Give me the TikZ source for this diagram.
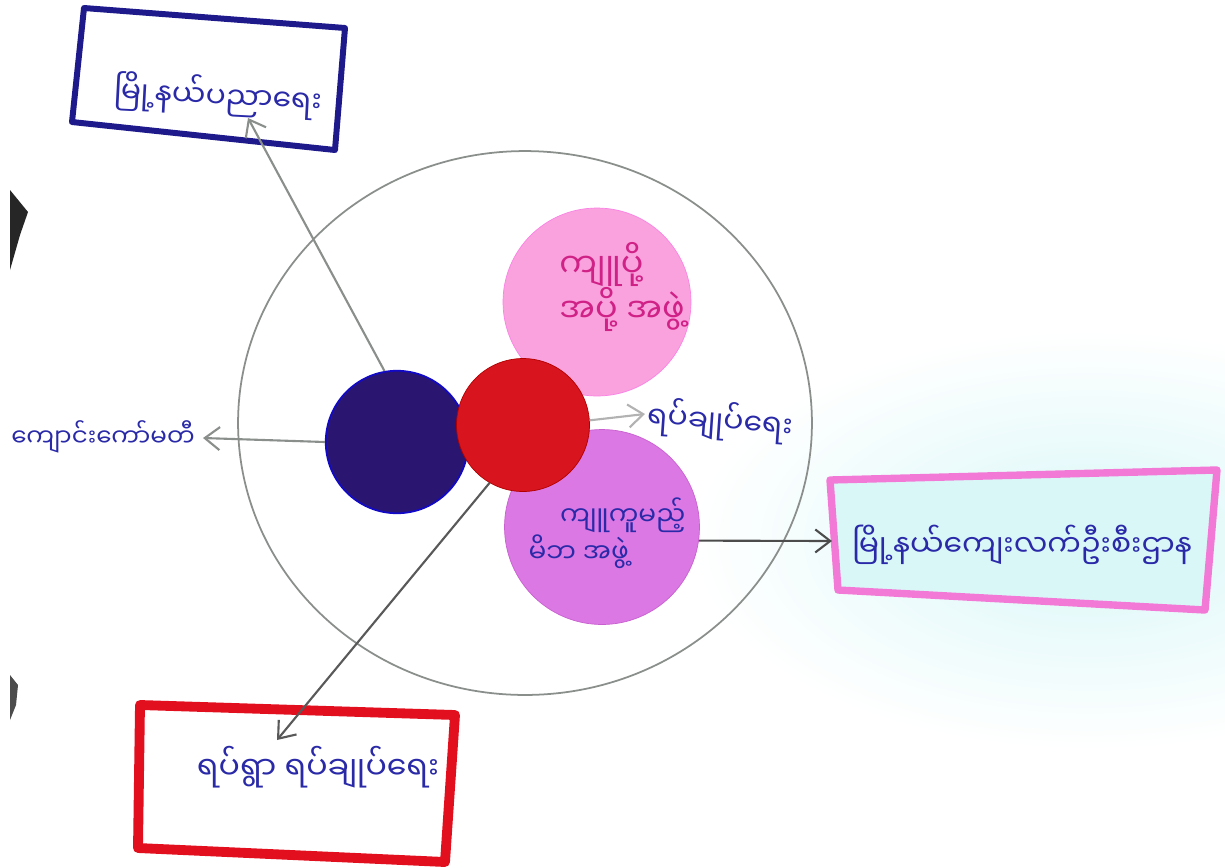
\documentclass[tikz,border=0pt]{standalone}
\usepackage{fontspec}
\usetikzlibrary{arrows.meta,shapes.geometric}
\newfontfamily\myan[Script=Myanmar]{Noto Sans Myanmar UI}
\definecolor{penblue}{HTML}{2A2AA8}
\definecolor{boxnavy}{HTML}{1F1A8C}
\definecolor{boxpink}{HTML}{F27AD6}
\definecolor{boxred}{HTML}{E2101F}
\definecolor{palecyan}{HTML}{DAF7F8}
\definecolor{ringgray}{HTML}{8A8F8C}
\definecolor{pinkblob}{HTML}{FAA2DE}
\definecolor{purpleblob}{HTML}{DB78E4}
\definecolor{redblob}{HTML}{D8141E}
\definecolor{navyblob}{HTML}{2A1670}
\tikzset{
    blob/.style={circle,inner sep=0pt,minimum size=#1},
    pointer/.style={ringgray,line width=1.2pt,-{Straight Barb[length=3mm,width=4.6mm]}},
    lbl/.style={font=\myan\fontsize{17}{20}\selectfont,text=penblue,inner sep=0pt,align=center},
    handbox/.style={line width=#1,line join=round}
}
\begin{document}
\begin{tikzpicture}[x=0.02cm,y=-0.02cm]
        \useasboundingbox (0,0) rectangle (1225,867);
        \fill[white] (0,0) rectangle (1225,867);
        \shade[inner color=palecyan,outer color=white] (1090,540) ellipse (400 and 210);
        \fill[black!85] (10,190) -- (28,212) -- (20,235) -- (10,270) -- cycle;
        \fill[black!70] (10,675) -- (18,685) -- (16,705) -- (10,720) -- cycle;
        \node[draw=ringgray,line width=1pt,ellipse,inner sep=0pt,minimum width=11.48cm,minimum height=10.88cm] (ring) at (525,423) {};
        \draw[handbox=3.4pt,draw=boxnavy] (84,8) -- (345,28) -- (335,150) -- (72,122) -- cycle;
        \draw[handbox=4.2pt,draw=boxpink,fill=palecyan] (830,480) -- (1217,470) -- (1205,610) -- (838,590) -- cycle;
        \draw[handbox=5.6pt,draw=boxred] (140,705) -- (455,715) -- (445,862) -- (138,848) -- cycle;
        \node[blob=3.76cm,fill=pinkblob,draw=pinkblob!80!magenta] (pink) at (597,302) {};
        \node[blob=3.9cm,fill=purpleblob,draw=purpleblob!80!violet] (purple) at (602,527) {};
        \node[blob=2.85cm,fill=navyblob,draw=blue!60!navyblob,line width=1pt] (navy) at (397,442) {};
        \node[blob=2.66cm,fill=redblob,draw=red!70!black] (red) at (523,425) {};
        \node[lbl,rotate=-3] (topbox) at (218,96) {မြို့နယ်ပညာရေး};
        \node[lbl] (rightbox) at (1022,545) {မြို့နယ်ကျေးလက်ဦးစီးဌာန};
        \node[lbl,font=\myan\fontsize{18}{20}\selectfont] (bottombox) at (318,767) {ရပ်ရွာ ရပ်ချုပ်ရေး};
        \node[lbl,font=\myan\fontsize{14}{17}\selectfont] (leftlbl) at (103,437) {ကျောင်းကော်မတီ};
        \node[lbl,rotate=-4] (midlbl) at (720,421) {ရပ်ချုပ်ရေး};
        \node[lbl,text=magenta!85!black,font=\myan\fontsize{19}{22}\selectfont,align=left] (pinklbl) at (622,287) {ကျူပို့\\အပို့ အဖွဲ့};
        \node[lbl,font=\myan\fontsize{15}{21}\selectfont,align=left] (purplelbl) at (607,533) {\hspace*{18pt}ကျူကူမည့်\\မိဘ အဖွဲ့};
        \coordinate (toptip) at (248,118);
        \coordinate (lefttip) at (203,438);
        \coordinate (midtip) at (645,414);
        \coordinate (righttip) at (832,541);
        \coordinate (bottomtip) at (277,740);
        \draw[pointer] (navy.100) -- (toptip);
        \draw[pointer] (navy.west) -- (lefttip);
        \draw[pointer,black!30] (red.4) -- (midtip);
        \draw[pointer,black!70] (purple.-8) -- (righttip);
        \draw[pointer,black!65] (red.240) -- (bottomtip);
    \end{tikzpicture}
\end{document}
